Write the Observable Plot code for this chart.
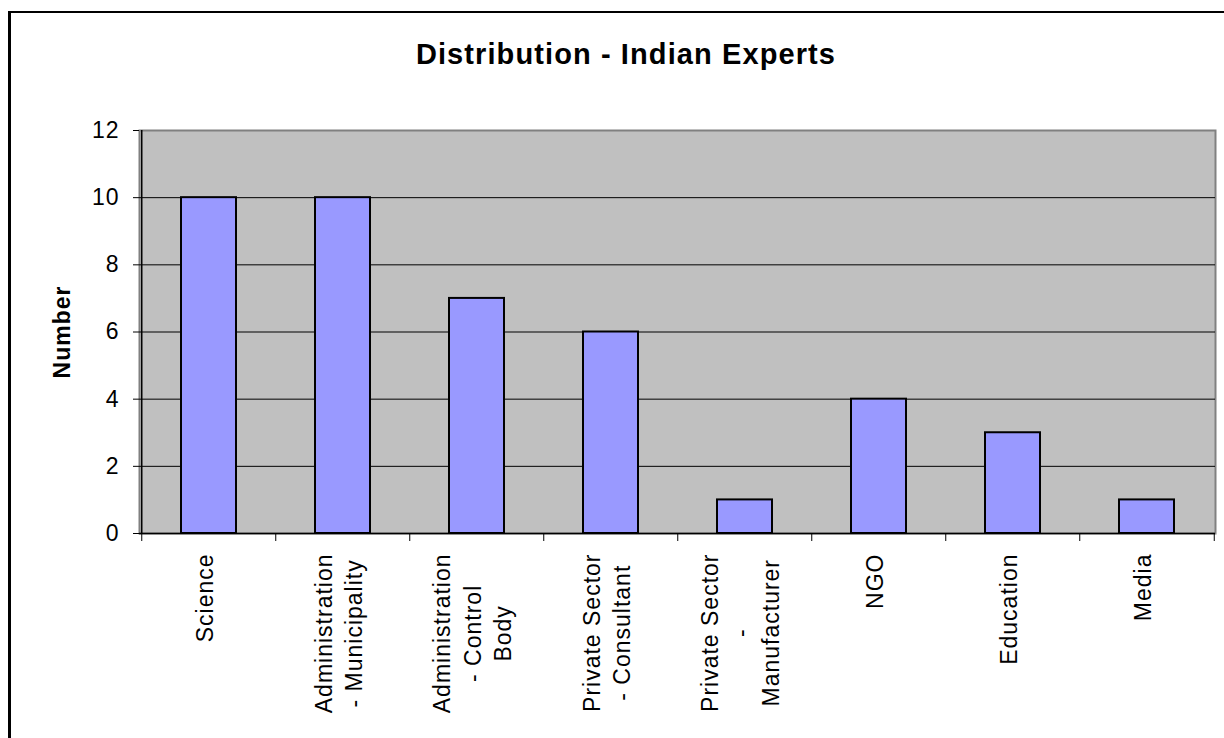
<!DOCTYPE html>
<html>
<head>
<meta charset="utf-8">
<script src="https://cdn.jsdelivr.net/npm/d3@7"></script>
<script src="https://cdn.jsdelivr.net/npm/@observablehq/plot@0.6"></script>
<style>
  html, body { margin: 0; padding: 0; background: #fff; }
  #wrap { position: relative; width: 1224px; height: 738px; overflow: hidden; font-family: "Liberation Sans", Arial, sans-serif; }
  #border { position: absolute; left: 8px; top: 11px; width: 1300px; height: 800px; border-left: 3px solid #000; border-top: 2px solid #000; box-sizing: border-box; pointer-events: none; }
  #title { position: absolute; left: 0; top: 40px; width: 1252px; text-align: center; font-size: 29px; line-height: 29px; font-weight: bold; letter-spacing: 1.1px; color: #000; }
  #chart { position: absolute; left: 0; top: 0; }
</style>
</head>
<body>
<div id="wrap">
  <div id="chart"></div>
  <div id="border"></div>
  <div id="title">Distribution - Indian Experts</div>
</div>
<script>
const categories = ["Science", "Administration - Municipality", "Administration - Control Body", "Private Sector - Consultant", "Private Sector - Manufacturer", "NGO", "Education", "Media"];
const tickLabels = ["Science", "Administration\n- Municipality", "Administration\n- Control\nBody", "Private Sector\n- Consultant", "Private Sector\n-\nManufacturer", "NGO", "Education", "Media"];
const values = [10, 10, 7, 6, 1, 4, 3, 1];
const yTicks = [0, 2, 4, 6, 8, 10, 12];
const gridValues = [2, 4, 6, 8, 10];

const data = categories.map((c, i) => ({category: c, value: values[i]}));
const labelOf = new Map(categories.map((c, i) => [c, tickLabels[i]]));

const W = 1224, H = 738;
const mL = 139, mR = 9, mT = 130, mB = 205;
const step = (W - mL - mR) / categories.length;
const fontFamily = '"Liberation Sans", Arial, sans-serif';
const fs = 23, ls = 1;

const ctx = document.createElement("canvas").getContext("2d");
ctx.font = `${fs}px ${fontFamily}`;
const maxWidth = c => Math.max(...labelOf.get(c).split("\n").map(l => ctx.measureText(l).width + l.length * ls));

const labelMarks = categories.map(c => Plot.text([c], {
  x: d => d,
  text: d => labelOf.get(d),
  frameAnchor: "bottom",
  rotate: -90,
  textAnchor: "middle",
  lineAnchor: "middle",
  lineHeight: 1.33,
  fontSize: fs,
  fill: "#000",
  dx: -6,
  dy: 20 + maxWidth(c) / 2
}));

const chart = Plot.plot({
  width: W,
  height: H,
  marginLeft: mL,
  marginRight: mR,
  marginTop: mT,
  marginBottom: mB,
  style: {fontFamily, fontSize: fs + "px", letterSpacing: ls + "px", color: "#000", background: "transparent"},
  x: {type: "band", domain: categories, paddingInner: 0.59, paddingOuter: 0.295},
  y: {domain: [0, 12]},
  marks: [
    Plot.frame({fill: "#C0C0C0", stroke: "#808080", strokeWidth: 2}),
    Plot.ruleY(gridValues, {stroke: "#000", strokeWidth: 1}),
    Plot.barY(data, {x: "category", y: "value", fill: "#9999FF", stroke: "#000", strokeWidth: 2}),
    Plot.ruleY([0], {stroke: "#000", strokeWidth: 1.5}),
    Plot.ruleX([categories[0]], {dx: -step / 2, stroke: "#000", strokeWidth: 1.5}),
    Plot.axisY({ticks: yTicks, tickSize: 6, tickPadding: 14, fontSize: fs, label: null, tickFormat: d => String(d)}),
    Plot.axisX({ticks: categories, tickSize: 8, dx: -step / 2, tickFormat: () => "", label: null}),
    Plot.axisX({ticks: [categories[categories.length - 1]], tickSize: 8, dx: step / 2, tickFormat: () => "", label: null}),
    ...labelMarks,
    Plot.text(["Number"], {frameAnchor: "left", rotate: -90, textAnchor: "middle", lineAnchor: "middle", dx: -77, text: d => d, fontSize: fs, fontWeight: "bold", fill: "#000"})
  ]
});
document.getElementById("chart").appendChild(chart);
</script>
</body>
</html>
